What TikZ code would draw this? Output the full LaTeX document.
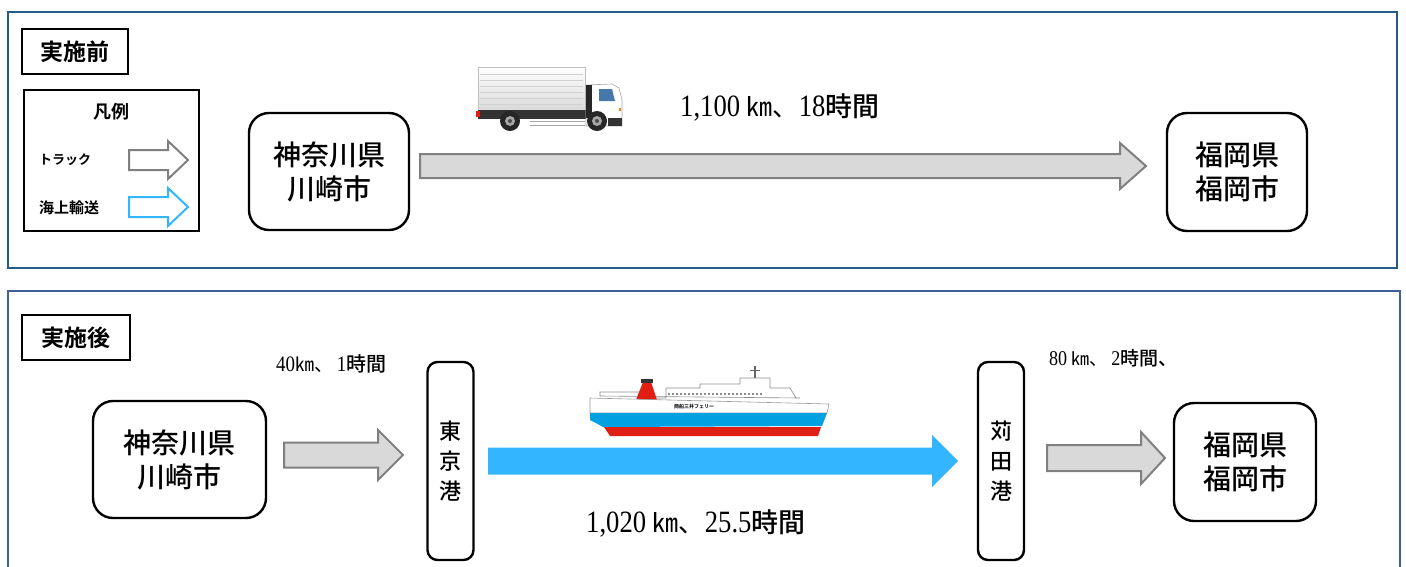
\documentclass[tikz,border=0pt]{standalone}
\usepackage{fontspec}
\newfontfamily\jp[BoldFont={Noto Sans CJK JP Bold}]{Noto Sans CJK JP}
\newfontfamily\jpm{Noto Sans CJK JP Medium}
\newfontfamily\num[FakeStretch=0.86]{Liberation Serif}
\definecolor{panelA}{RGB}{35,92,135}
\definecolor{panelB}{RGB}{62,98,150}
\definecolor{roadfill}{RGB}{217,217,217}
\definecolor{roadline}{RGB}{128,128,128}
\definecolor{seablue}{RGB}{51,182,255}
\definecolor{hullblue}{RGB}{0,160,225}
\definecolor{hullred}{RGB}{225,30,20}
\definecolor{cabwin}{RGB}{70,120,170}

% fat block arrow: style, x start, x tip, y centre, body half, head half, head start
\newcommand\fatarrow[7]{%
  \draw[#1] (#2,#4-#5) -- (#7,#4-#5) -- (#7,#4-#6) -- (#3,#4)
    -- (#7,#4+#6) -- (#7,#4+#5) -- (#2,#4+#5) -- cycle;}

\tikzset{
  panel/.style={line width=2pt},
  tagbox/.style={draw, line width=2.4pt, font=\jp\bfseries\fontsize{23}{26}\selectfont,
    minimum width=#1, minimum height=45pt, inner sep=0pt},
  place/.style={draw, line width=2.4pt, rounded corners=20pt, align=center,
    font=\jpm\fontsize{28}{34}\selectfont, inner sep=0pt},
  port/.style={draw, line width=2.4pt, rounded corners=10pt, align=center,
    minimum width=46pt, minimum height=198pt, inner sep=0pt,
    font=\jpm\fontsize{22}{30}\selectfont},
  roadarrow/.style={draw=roadline, fill=roadfill, line width=2pt},
  seaarrow/.style={fill=seablue, draw=none},
  legroad/.style={draw=roadline, fill=white, line width=2pt},
  legsea/.style={draw=seablue, fill=white, line width=2pt},
  dist/.style={inner sep=0pt, anchor=west},
}

\begin{document}
\begin{tikzpicture}[x=1pt, y=-1pt]
\useasboundingbox (0,0) rectangle (1406,566);
\clip (0,0) rectangle (1406,566);

% ---------------- before ----------------
\draw[panel, draw=panelA] (8,12) rectangle (1397,268);
\node[tagbox=106pt] (pre) at (75,51.5) {実施前};

% legend
\node[draw, line width=1.6pt, minimum width=175pt, minimum height=141pt, inner sep=0pt]
  (legend) at (111.5,160.5) {};
\node[font=\jp\bfseries\fontsize{18}{20}\selectfont] (legtitle) at (111,112) {凡例};
\node[font=\jp\bfseries\fontsize{13}{15}\selectfont, anchor=west, inner sep=0pt] (legtruck) at (39,160) {トラック};
\node[font=\jp\bfseries\fontsize{15}{17}\selectfont, anchor=west, inner sep=0pt] (legship) at (39,208) {海上輸送};
\fatarrow{legroad}{129}{188}{160}{10}{19}{168}
\fatarrow{legsea}{129}{188}{207}{10}{19}{168}

% places
\node[place, minimum width=160pt, minimum height=117pt] (kawaA) at (329,171.5) {神奈川県\\川崎市};
\node[place, minimum width=140pt, minimum height=118pt] (fukuA) at (1237,172) {福岡県\\福岡市};
\fatarrow{roadarrow}{420}{1146}{166}{12}{23}{1120}

% truck
\begin{scope}
  \shade[top color=white, bottom color=black!15] (478,67) rectangle (585,111);
  \draw[black!25, line width=0.6pt] (478,67) rectangle (585,111);
  \foreach \yy in {74,80,86,92,98,104}
    \draw[black!18, line width=0.8pt] (480,\yy) -- (583,\yy);
  \fill[black!80] (478,110) rectangle (598,119);
  \fill[white] (484,119) rectangle (495,124);
  \draw[black!35, line width=0.8pt] (530,121) -- (585,121) (530,125) -- (585,125);
  \fill[hullred] (476,111) rectangle (480,117);
  % cab
  \filldraw[fill=white, draw=black!35, line width=0.6pt]
    (586,85) -- (612,84) -- (619,88) -- (622,100) -- (622,126) -- (586,126) -- cycle;
  \fill[black!85] (586,85) rectangle (592,118);
  \fill[cabwin] (599,89) -- (612,89) -- (615,101) -- (599,101) -- cycle;
  \fill[black!80] (608,118) rectangle (622,126);
  \fill[orange] (619,108) rectangle (621,111);
  % wheels
  \foreach \wx in {510,597} {
    \fill[black!85] (\wx,121) circle (10);
    \fill[black!35] (\wx,121) circle (5);
    \fill[black!70] (\wx,121) circle (2);
  }
\end{scope}

\node[dist] (distA) at (680,107) {\fontsize{31}{34}\selectfont\num 1,100 {\jp\fontsize{26}{30}\selectfont ㎞、}18{\jpm\fontsize{27}{30}\selectfont 時間}};

% ---------------- after ----------------
\draw[panel, draw=panelB] (8,291) rectangle (1400,620);
\node[tagbox=108pt] (post) at (76,337.5) {実施後};

\node[place, minimum width=173pt, minimum height=117pt] (kawaB) at (179.5,459.5) {神奈川県\\川崎市};
\node[port] (tokyo) at (450.5,461) {東\\京\\港};
\node[port] (kanda) at (1001,461) {苅\\田\\港};
\node[place, minimum width=142pt, minimum height=118pt] (fukuB) at (1245,462) {福岡県\\福岡市};

\fatarrow{roadarrow}{284}{403}{455}{12.5}{25}{378}
\fatarrow{seaarrow}{488}{958}{461}{13.5}{26}{932}
\fatarrow{roadarrow}{1047}{1165}{458}{13}{26}{1141}

\node[dist] (leg1) at (276,364) {\fontsize{22}{24}\selectfont\num 40{\jp\fontsize{19}{22}\selectfont ㎞、}\,1{\jpm\fontsize{20}{22}\selectfont 時間}};
\node[dist] (leg3) at (1049,358) {\fontsize{21}{23}\selectfont\num 80 {\jp\fontsize{18}{21}\selectfont ㎞、}\,2{\jpm\fontsize{19}{21}\selectfont 時間、}};
\node[dist] (distB) at (586,523) {\fontsize{31}{34}\selectfont\num 1,020 {\jp\fontsize{26}{30}\selectfont ㎞、}25.5{\jpm\fontsize{27}{30}\selectfont 時間}};

% ferry
\begin{scope}
  % superstructure
  \filldraw[fill=white, draw=black!45, line width=0.6pt]
    (600,396) -- (600,392) -- (640,392) -- (640,398) -- (666,398) -- (666,388) -- (700,388)
    -- (700,384) -- (740,384) -- (740,378) -- (770,378) -- (770,388) -- (790,388)
    -- (796,398) -- (800,398) -- cycle;
  \draw[black!60, line width=1.2pt] (755,366) -- (755,378);
  \draw[black!60, line width=1pt] (750,370) -- (760,370);
  \foreach \wx in {668,672,...,760} \fill[black!45] (\wx,393) rectangle ++(2,2);
  % funnel
  \fill[hullred] (636,400) -- (643,382) -- (651,382) -- (657,400) -- cycle;
  \fill[black!80] (641,379) rectangle (653,383);
  % hull
  \filldraw[fill=white, draw=black!40, line width=0.6pt]
    (590,398) -- (829,404) -- (827,413) -- (590,413) -- cycle;
  \fill[hullblue] (590,413) -- (827,413) -- (822,426) -- (603,427) -- (596,423) -- (590,420) -- cycle;
  \fill[hullred] (604,427) -- (821,427) -- (818,436) -- (610,436) -- cycle;
  \node[font=\jp\bfseries\fontsize{5}{6}\selectfont, inner sep=0pt] (ferryname) at (694,407) {商船三井フェリー};
\end{scope}

\end{tikzpicture}
\end{document}
